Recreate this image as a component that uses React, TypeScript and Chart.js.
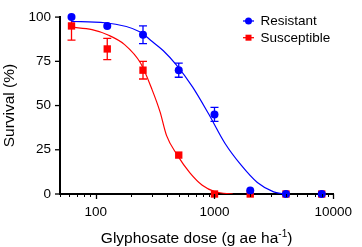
import React, { useEffect, useRef } from "react";
import { Chart, registerables } from "chart.js";

Chart.register(...registerables);

const doses = [62.5, 125, 250, 500, 1000, 2000, 4000, 8000];
const resistantMean = [100, 95, 90, 70, 45, 2, 0, 0];
const resistantErr = [0, 0, 5, 4, 4, 0, 0, 0];
const susceptibleMean = [95, 82, 70, 22, 0, 0, 0, 0];
const susceptibleErr = [8, 6, 5, 0, 0, 0, 0, 0];

const resistantCurveDose = [62.5, 120, 237, 297, 371, 477, 653, 889, 1224, 1678, 2296, 3148, 3800];
const resistantCurveVal = [97.5, 96.8, 91.6, 86.3, 81, 73, 60.6, 45.5, 28.7, 16.3, 6.5, 1.2, 0];
const susceptibleCurveDose = [62.5, 93, 127, 174, 239, 298, 348, 395, 486, 621, 789, 1014, 1425];
const susceptibleCurveVal = [94.3, 92.9, 89.9, 84.6, 73.9, 59, 46.4, 33, 22, 12, 5, 1.3, 0];

const xTickLabels = [100, 1000, 10000];
const yTickValues = [0, 25, 50, 75, 100];

const BLUE = "#0000ff";
const RED = "#ff0000";
const FONT = "'Liberation Sans', Arial, sans-serif";

const seriesLabels = ["Resistant", "Susceptible"];

const errorBarPlugin = {
  id: "errorBars",
  beforeDatasetsDraw(chart: any) {
    const { ctx } = chart;
    const x = chart.scales.x;
    const y = chart.scales.y;
    const sets = [
      { mean: resistantMean, err: resistantErr, color: BLUE },
      { mean: susceptibleMean, err: susceptibleErr, color: RED },
    ];
    ctx.save();
    for (const s of sets) {
      ctx.strokeStyle = s.color;
      ctx.lineWidth = 1.3;
      doses.forEach((d, i) => {
        const e = s.err[i];
        if (!e) return;
        const px = x.getPixelForValue(d);
        const hi = Math.min(100, s.mean[i] + e);
        const lo = s.mean[i] - e;
        const pyHi = y.getPixelForValue(hi);
        const pyLo = y.getPixelForValue(lo);
        ctx.beginPath();
        ctx.moveTo(px, pyHi);
        ctx.lineTo(px, pyLo);
        ctx.moveTo(px - 4, pyLo);
        ctx.lineTo(px + 4, pyLo);
        if (s.mean[i] + e <= 100) {
          ctx.moveTo(px - 4, pyHi);
          ctx.lineTo(px + 4, pyHi);
        }
        ctx.stroke();
      });
    }
    ctx.restore();
  },
};

const decorPlugin = {
  id: "decor",
  afterDraw(chart: any) {
    const { ctx, chartArea } = chart;
    const x = chart.scales.x;
    const y = chart.scales.y;
    ctx.save();
    ctx.strokeStyle = "#000";
    ctx.lineWidth = 1;
    // x ticks
    const bottom = chartArea.bottom;
    for (let dec = 10; dec <= 10000; dec *= 10) {
      for (let m = 1; m <= 9; m++) {
        const v = dec * m;
        if (v < 50 || v > 10000) continue;
        const px = Math.round(x.getPixelForValue(v)) + 0.5;
        const major = xTickLabels.includes(v);
        ctx.beginPath();
        ctx.moveTo(px, bottom);
        ctx.lineTo(px, bottom + (major ? 5 : 3));
        ctx.lineWidth = major ? 1.3 : 1;
        ctx.stroke();
      }
    }
    // y ticks
    const left = chartArea.left;
    ctx.lineWidth = 1.3;
    for (const v of yTickValues) {
      const py = y.getPixelForValue(v);
      ctx.beginPath();
      ctx.moveTo(left - 5, py);
      ctx.lineTo(left, py);
      ctx.stroke();
    }
    // x title with superscript
    ctx.fillStyle = "#000";
    ctx.textBaseline = "alphabetic";
    const main = "Glyphosate dose (g ae ha";
    const sup = "-1";
    const end = ")";
    const big = 15.5;
    const small = 10;
    ctx.font = `${big}px ${FONT}`;
    const w1 = ctx.measureText(main).width;
    const w3 = ctx.measureText(end).width;
    ctx.font = `${small}px ${FONT}`;
    const w2 = ctx.measureText(sup).width;
    const total = w1 + w2 + w3;
    let sx = (chartArea.left + chartArea.right) / 2 - total / 2;
    const base = 243;
    ctx.font = `${big}px ${FONT}`;
    ctx.textAlign = "left";
    ctx.fillText(main, sx, base);
    sx += w1;
    ctx.font = `${small}px ${FONT}`;
    ctx.fillText(sup, sx, base - 6.5);
    sx += w2;
    ctx.font = `${big}px ${FONT}`;
    ctx.fillText(end, sx, base);
    // y title
    ctx.save();
    ctx.translate(9.5, (chartArea.top + chartArea.bottom) / 2);
    ctx.rotate(-Math.PI / 2);
    ctx.textAlign = "center";
    ctx.textBaseline = "middle";
    ctx.font = `${big}px ${FONT}`;
    ctx.fillText("Survival (%)", 0, 0);
    ctx.restore();
    // legend
    const items = [
      { label: seriesLabels[0], color: BLUE, shape: "circle", y: 21 },
      { label: seriesLabels[1], color: RED, shape: "rect", y: 37.7 },
    ];
    for (const it of items) {
      ctx.strokeStyle = it.color;
      ctx.fillStyle = it.color;
      ctx.lineWidth = 1.3;
      ctx.beginPath();
      ctx.moveTo(243, it.y);
      ctx.lineTo(254, it.y);
      ctx.stroke();
      ctx.beginPath();
      if (it.shape === "circle") {
        ctx.arc(248.5, it.y, 3.5, 0, Math.PI * 2);
      } else {
        ctx.rect(245.5, it.y - 3, 6, 6);
      }
      ctx.fill();
      ctx.fillStyle = "#000";
      ctx.font = `13.5px ${FONT}`;
      ctx.textAlign = "left";
      ctx.textBaseline = "middle";
      ctx.fillText(it.label, 260.5, it.y + 0.5);
    }
    ctx.restore();
  },
};

export default function App() {
  const ref = useRef<HTMLCanvasElement>(null);
  useEffect(() => {
    document.body.style.margin = "0";
    const canvas = ref.current;
    if (!canvas) return;
    const chart = new Chart(canvas, {
      type: "scatter",
      data: {
        datasets: [
          {
            type: "scatter",
            label: seriesLabels[0],
            data: doses.map((d, i) => ({ x: d, y: resistantMean[i] })),
            pointStyle: "circle",
            pointRadius: 4,
            backgroundColor: BLUE,
            borderColor: BLUE,
            borderWidth: 0,
            showLine: false,
            clip: false,
          } as any,
          {
            type: "scatter",
            label: seriesLabels[1],
            data: doses.map((d, i) => ({ x: d, y: susceptibleMean[i] })),
            pointStyle: "rect",
            pointRadius: 5.2,
            backgroundColor: RED,
            borderColor: RED,
            borderWidth: 0,
            showLine: false,
            clip: false,
          } as any,
          {
            type: "line",
            label: "Resistant fit",
            data: resistantCurveDose.map((d, i) => ({ x: d, y: resistantCurveVal[i] })),
            borderColor: BLUE,
            borderWidth: 1.2,
            pointRadius: 0,
            fill: false,
            cubicInterpolationMode: "monotone",
          } as any,
          {
            type: "line",
            label: "Susceptible fit",
            data: susceptibleCurveDose.map((d, i) => ({ x: d, y: susceptibleCurveVal[i] })),
            borderColor: RED,
            borderWidth: 1.2,
            pointRadius: 0,
            fill: false,
            cubicInterpolationMode: "monotone",
          } as any,
        ],
      },
      options: {
        responsive: false,
        animation: false,
        layout: { padding: { top: 6, right: 20, left: 0, bottom: 0 } },
        plugins: {
          legend: { display: false },
          tooltip: { enabled: false },
        },
        scales: {
          x: {
            type: "logarithmic",
            position: "bottom",
            min: 50,
            max: 10000,
            grid: { display: false, drawTicks: false },
            border: { display: true, color: "#000", width: 2 },
            afterBuildTicks: (s: any) => {
              s.ticks = xTickLabels.map((v) => ({ value: v }));
            },
            afterFit: (s: any) => {
              s.height = 53;
            },
            ticks: {
              autoSkip: false,
              maxRotation: 0,
              padding: 10,
              color: "#000",
              font: { family: FONT, size: 13.5 },
              callback: (v: any) => String(v),
            },
          },
          y: {
            min: 0,
            max: 100,
            grid: { display: false, drawTicks: false },
            border: { display: true, color: "#000", width: 2 },
            afterBuildTicks: (s: any) => {
              s.ticks = yTickValues.map((v) => ({ value: v }));
            },
            afterFit: (s: any) => {
              s.width = 60;
            },
            ticks: {
              padding: 9,
              color: "#000",
              font: { family: FONT, size: 13.5 },
            },
          },
        },
      } as any,
      plugins: [errorBarPlugin, decorPlugin],
    });
    return () => chart.destroy();
  }, []);
  return <canvas ref={ref} width={362} height={247} style={{ display: "block" }} />;
}
